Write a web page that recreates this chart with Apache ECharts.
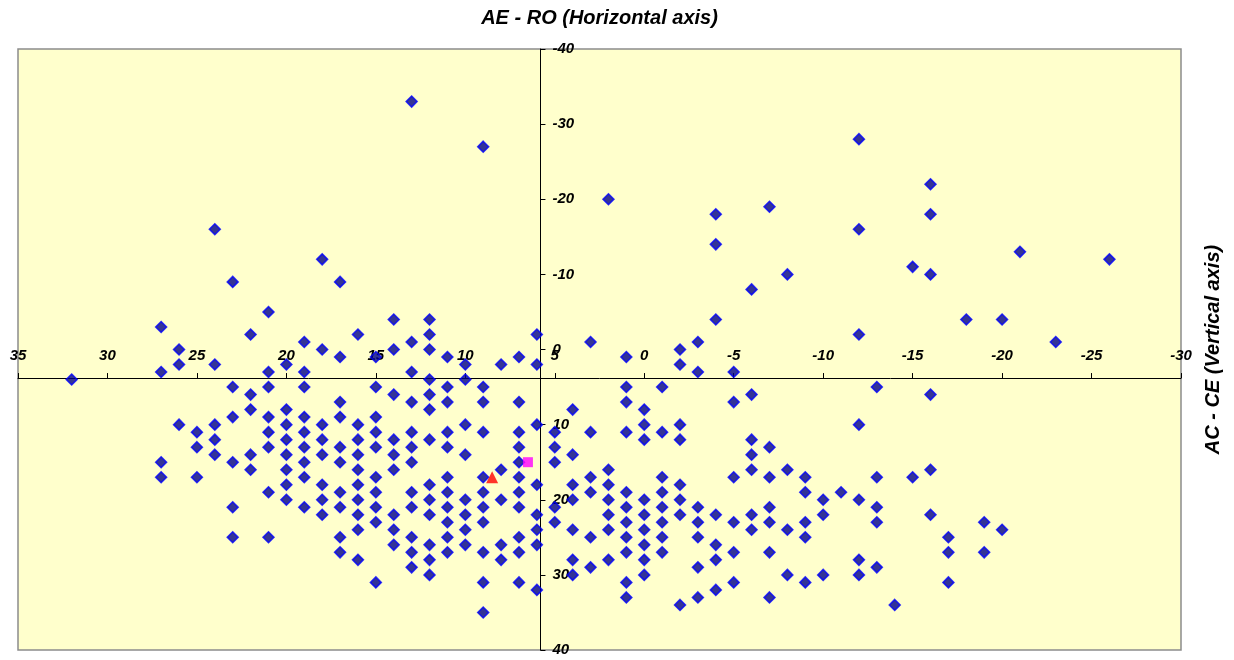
<!DOCTYPE html>
<html>
<head>
<meta charset="utf-8">
<script src="https://cdn.jsdelivr.net/npm/echarts@6/dist/echarts.min.js"></script>
<style>
html,body{margin:0;padding:0;background:#ffffff;}
#chart{width:1234px;height:660px;}
</style>
</head>
<body>
<div id="chart"></div>
<script>
// AE - RO values (horizontal), one entry per column of points
const aeRoColumns = [32, 27, 26, 25, 24, 23, 22, 21, 20, 19, 18, 17, 16, 15, 14, 13, 12, 11, 10, 9, 8, 7, 6, 5, 4, 3, 2, 1, 0,
  -1, -2, -3, -4, -5, -6, -7, -8, -9, -10, -11, -12, -13, -14, -15, -16, -17, -18, -19, -20, -21, -23, -26];
// AC - CE values (vertical) for each AE - RO column above
const acCeByColumn = [
  [4],
  [-3, 3, 15, 17],
  [0, 2, 10],
  [11, 13, 17],
  [-16, 2, 10, 12, 14],
  [-9, 5, 9, 15, 21, 25],
  [-2, 6, 8, 14, 16],
  [-5, 3, 5, 9, 11, 13, 19, 25],
  [2, 8, 10, 12, 14, 16, 18, 20],
  [-1, 3, 5, 9, 11, 13, 15, 17, 21],
  [-12, 0, 10, 12, 14, 18, 20, 22],
  [-9, 1, 7, 9, 13, 15, 19, 21, 25, 27],
  [-2, 10, 12, 14, 16, 18, 20, 22, 24, 28],
  [1, 5, 9, 11, 13, 17, 19, 21, 23, 31],
  [-4, 0, 6, 12, 14, 16, 22, 24, 26],
  [-33, -1, 3, 7, 11, 13, 15, 19, 21, 25, 27, 29],
  [-4, -2, 0, 4, 6, 8, 12, 18, 20, 22, 26, 28, 30],
  [1, 5, 7, 11, 13, 17, 19, 21, 23, 25, 27],
  [2, 4, 10, 14, 20, 22, 24, 26],
  [-27, 5, 7, 11, 17, 19, 21, 23, 27, 31, 35],
  [2, 16, 20, 26, 28],
  [1, 7, 11, 13, 15, 17, 19, 21, 25, 27, 31],
  [-2, 2, 10, 18, 22, 24, 26, 32],
  [11, 13, 15, 21, 23],
  [8, 14, 18, 20, 24, 28, 30],
  [-1, 11, 17, 19, 25, 29],
  [-20, 16, 18, 20, 22, 24, 28],
  [1, 5, 7, 11, 19, 21, 23, 25, 27, 31, 33],
  [8, 10, 12, 20, 22, 24, 26, 28, 30],
  [5, 11, 17, 19, 21, 23, 25, 27],
  [0, 2, 10, 12, 18, 20, 22, 34],
  [-1, 3, 21, 23, 25, 29, 33],
  [-18, -14, -4, 22, 26, 28, 32],
  [3, 7, 17, 23, 27, 31],
  [-8, 6, 12, 14, 16, 22, 24],
  [-19, 13, 17, 21, 23, 27, 33],
  [-10, 16, 24, 30],
  [17, 19, 23, 25, 31],
  [20, 22, 30],
  [19],
  [-28, -16, -2, 10, 20, 28, 30],
  [5, 17, 21, 23, 29],
  [34],
  [-11, 17],
  [-22, -18, -10, 6, 16, 22],
  [25, 27, 31],
  [-4],
  [23, 27],
  [-4, 24],
  [-13],
  [-1],
  [-12]
];
// Mean markers
const meanTriangle = [8.5, 17];
const meanSquare = [6.5, 15];
// Where the axes cross each other (AE - RO, AC - CE)
const axisCross = [5.8, 3.8];
// Tick settings
const xTicks = { min: -30, max: 35, interval: 5 };
const yTicks = { min: -40, max: 40, interval: 10 };

const points = [];
aeRoColumns.forEach((x, i) => acCeByColumn[i].forEach(y => points.push([x, y])));

const labelFont = { fontFamily: 'Liberation Sans, Arial, sans-serif', fontWeight: 'bold', fontStyle: 'italic', fontSize: 15, color: '#000' };
const titleFont = 'italic bold 20px "Liberation Sans", Arial, sans-serif';

const G = { left: 18, top: 49, right: 53, bottom: 10 };
const W = 1234, H = 660;
const plotCx = (G.left + (W - G.right)) / 2;
const plotCy = (G.top + (H - G.bottom)) / 2;

const chart = echarts.init(document.getElementById('chart'), null, { renderer: 'canvas' });
const option = {
  animation: false,
  backgroundColor: '#ffffff',
  grid: {
    left: G.left, top: G.top, right: G.right, bottom: G.bottom,
    show: true, backgroundColor: '#FFFFCC', borderColor: '#8c8c8c', borderWidth: 1.5,
    containLabel: false, outerBoundsMode: 'none'
  },
  xAxis: {
    type: 'value', position: 'top', inverse: true,
    min: xTicks.min, max: xTicks.max, interval: xTicks.interval,
    offset: 0,
    axisLine: { onZero: false, lineStyle: { color: '#000', width: 1 } },
    axisTick: { show: true, inside: false, length: 5, lineStyle: { color: '#000' } },
    axisLabel: Object.assign({ margin: 15, showMinLabel: true, showMaxLabel: true }, labelFont),
    splitLine: { show: false }
  },
  yAxis: {
    type: 'value', position: 'right', inverse: true,
    min: yTicks.min, max: yTicks.max, interval: yTicks.interval,
    offset: 0,
    axisLine: { onZero: false, lineStyle: { color: '#000', width: 1 } },
    axisTick: { show: true, inside: false, length: 5, lineStyle: { color: '#000' } },
    axisLabel: Object.assign({ margin: 12, align: 'left', showMinLabel: true, showMaxLabel: true }, labelFont),
    splitLine: { show: false }
  },
  graphic: [
    {
      type: 'text', x: plotCx, y: 18,
      style: { text: 'AE - RO (Horizontal axis)', font: titleFont, fill: '#000', align: 'center', verticalAlign: 'middle' }
    },
    {
      type: 'text', x: 1213, y: plotCy, rotation: Math.PI / 2,
      style: { text: 'AC - CE (Vertical axis)', font: titleFont, fill: '#000', align: 'center', verticalAlign: 'middle' }
    }
  ],
  series: [
    {
      type: 'scatter', data: points, symbol: 'diamond', symbolSize: 11,
      itemStyle: { color: '#00008B', borderColor: '#0000FF', borderWidth: 1.5 }
    },
    {
      type: 'scatter', data: [meanTriangle], symbol: 'triangle', symbolSize: 12,
      itemStyle: { color: '#FF0000' }
    },
    {
      type: 'scatter', data: [meanSquare], symbol: 'rect', symbolSize: 10,
      itemStyle: { color: '#FF00FF' }
    }
  ]
};
chart.setOption(option);
const cross = chart.convertToPixel({ gridIndex: 0 }, axisCross);
chart.setOption({
  xAxis: { offset: -(cross[1] - G.top) },
  yAxis: { offset: -((W - G.right) - cross[0]) }
});
</script>
</body>
</html>
